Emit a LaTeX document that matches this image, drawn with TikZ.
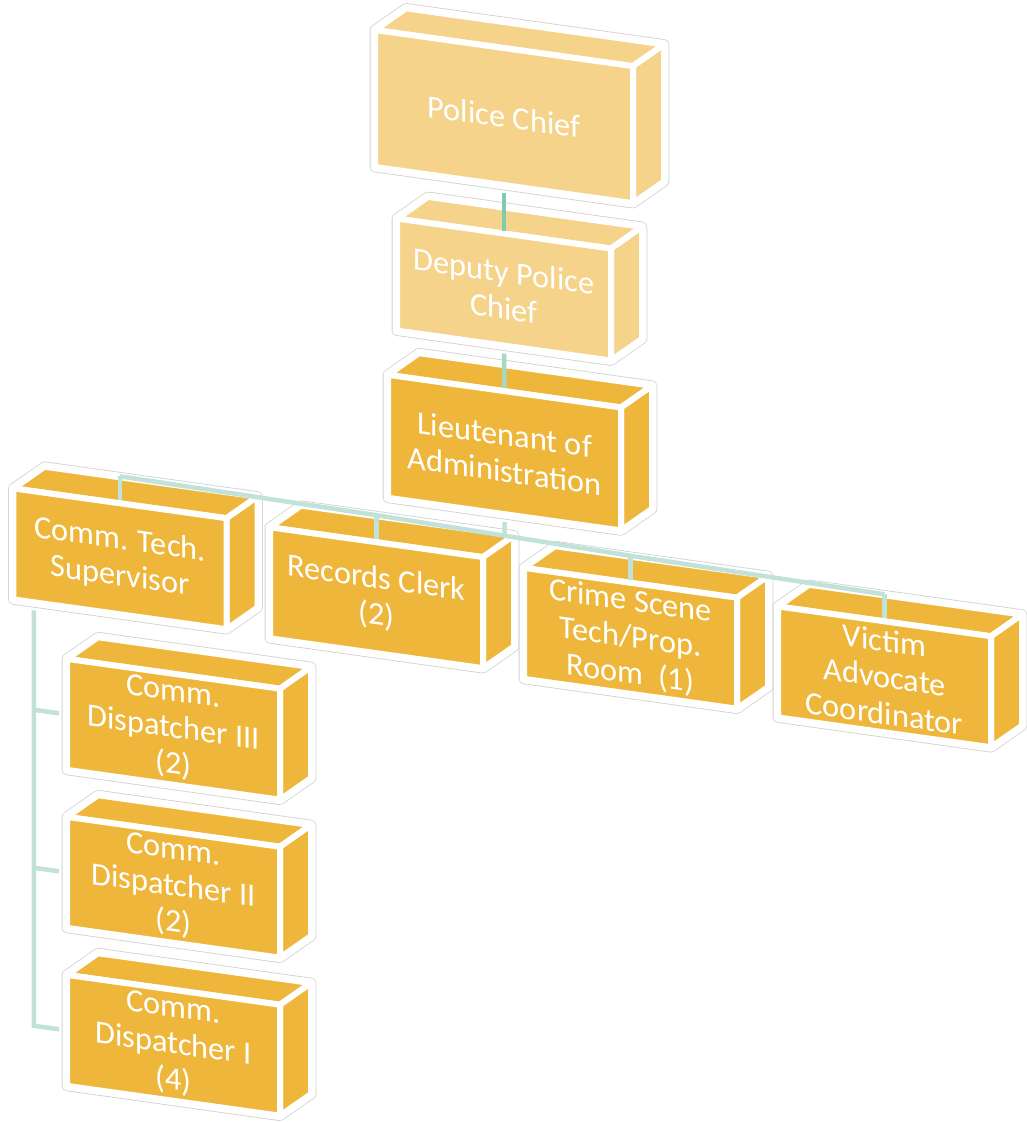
\documentclass[tikz,border=0pt]{standalone}
\usepackage{fontspec}
\setmainfont{Carlito}
\usepackage{tikz}
\usetikzlibrary{calc,positioning}
\definecolor{chiefgold}{HTML}{F5D38A}
\definecolor{staffgold}{HTML}{EEB73B}
\definecolor{linkteal}{HTML}{80CBAD}
\definecolor{linksage}{HTML}{A6D8C4}
\definecolor{linkmist}{HTML}{C0E2D8}
\tikzset{
  post/.style={draw=white,line width=0.6mm,text=white,align=center,inner sep=0pt,
    minimum width=2.13cm,minimum height=1.11cm,font=\fontsize{9.2}{10.4}\selectfont},
  face/.style={draw=white,line width=0.6mm,line join=round},
  hull/.style={draw=black!18,line width=0.08mm,double=white,double distance=0.9mm,
    line join=round,fill=white},
  link/.style={draw=linkmist,line width=0.45mm}
}
% block with top and side face: name, centre, width, height, colour, text
\newcommand{\orgpost}[6]{%
  \begin{scope}[shift={#2}]
    \path[hull] (-#3/2,-#4/2) -- (-#3/2,#4/2) -- ++(0.31,0.26) -- ++(#3,0)
      -- ++(0,-#4) -- (#3/2,-#4/2) -- cycle;
    \path[face,fill=#5] (-#3/2,#4/2) -- ++(0.31,0.26) -- ++(#3,0) -- (#3/2,#4/2) -- cycle;
    \path[face,fill=#5] (#3/2,#4/2) -- ++(0.31,0.26) -- ++(0,-#4) -- (#3/2,-#4/2) -- cycle;
    \node[post,fill=#5,minimum width=#3cm,minimum height=#4cm] (#1) at (0,0) {#6};
  \end{scope}}

\begin{document}
\begin{tikzpicture}
  \useasboundingbox (0,0) rectangle (10.27,-11.22);
  \begin{scope}[yslant=-0.14,transform shape]
    \orgpost{chief}{(5.04,-0.46)}{2.58}{1.37}{chiefgold}{Police Chief}
    \orgpost{deputy}{(5.04,-2.19)}{2.14}{1.12}{chiefgold}{Deputy Police\\Chief}
    \orgpost{lt}{(5.045,-3.82)}{2.33}{1.23}{staffgold}{Lieutenant of\\Administration}
    \orgpost{ct}{(1.20,-5.42)}{2.13}{1.11}{staffgold}{Comm. Tech.\\Supervisor}
    \orgpost{rc}{(3.765,-5.45)}{2.13}{1.11}{staffgold}{Records Clerk\\(2)}
    \orgpost{cs}{(6.305,-5.50)}{2.13}{1.11}{staffgold}{Crime Scene\\Tech/Prop.\\Room~~(1)}
    \orgpost{va}{(8.845,-5.53)}{2.13}{1.11}{staffgold}{Victim\\Advocate\\Coordinator}
    \orgpost{d3}{(1.735,-7.05)}{2.13}{1.11}{staffgold}{Comm.\\Dispatcher III\\(2)}
    \orgpost{d2}{(1.735,-8.63)}{2.13}{1.11}{staffgold}{Comm.\\Dispatcher II\\(2)}
    \orgpost{d1}{(1.735,-10.21)}{2.13}{1.11}{staffgold}{Comm.\\Dispatcher I\\(4)}

    \coordinate (ctbus) at ($(ct.north)+(0,0.24)$);
    \coordinate (rcbus) at ($(rc.north)+(0,0.24)$);
    \coordinate (csbus) at ($(cs.north)+(0,0.24)$);
    \coordinate (vabus) at ($(va.north)+(0,0.24)$);
    \coordinate (spine) at ($(ct.south west)+(0.235,-0.05)$);
    \coordinate (d3foot) at ($(d3.west)+(-0.30,0)$);
    \coordinate (d2foot) at ($(d2.west)+(-0.30,0)$);
    \coordinate (d1foot) at ($(d1.west)+(-0.30,0)$);

    \draw[link,draw=linkteal] ($(chief.south)+(0,-0.05)$) -- (deputy.north);
    \draw[link,draw=linksage] ($(deputy.south)+(0,-0.05)$) -- (lt.north);
    \draw[link] ($(lt.south)+(0,-0.05)$) -- (intersection of lt.north--lt.south and rcbus--csbus);
    \draw[link] (ctbus) -- (rcbus) -- (csbus) -- (vabus);
    \draw[link] (ctbus) -- (ct.north);
    \draw[link] (rcbus) -- (rc.north);
    \draw[link] (csbus) -- (cs.north);
    \draw[link] (vabus) -- (va.north);
    \draw[link] (spine) -- (spine |- d1foot) -- ($(d1.west)+(-0.05,0)$);
    \draw[link] (d3foot) -- ($(d3.west)+(-0.05,0)$);
    \draw[link] (d2foot) -- ($(d2.west)+(-0.05,0)$);
  \end{scope}
\end{tikzpicture}
\end{document}
